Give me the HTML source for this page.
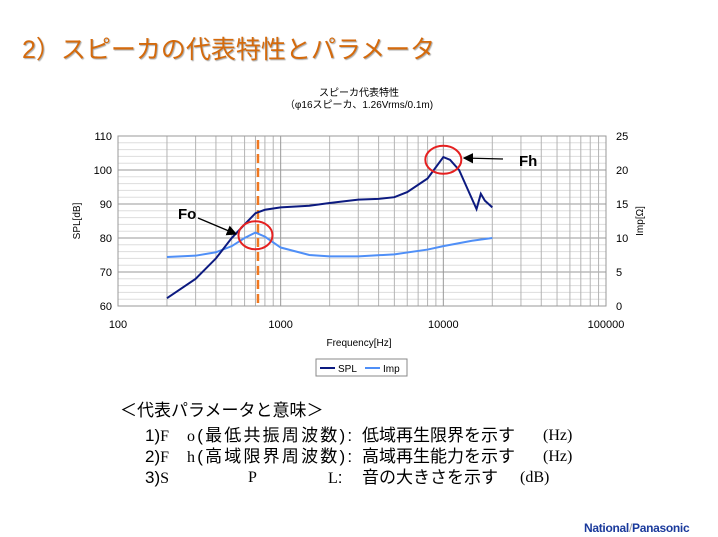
<!DOCTYPE html>
<html><head><meta charset="utf-8"><style>
body{margin:0;width:718px;height:537px;background:#fff;overflow:hidden;position:relative;font-family:"Liberation Sans","Noto Sans CJK JP",sans-serif}
.t{position:absolute;white-space:nowrap}
.p{position:absolute;white-space:nowrap;font-size:17px;line-height:20px;height:20px}
.s{font-family:"Liberation Serif",serif;font-size:16px}
.w{letter-spacing:2.2px}
</style></head><body>
<div class="t" style="left:22px;top:30px;font-size:25px;color:#d46a0c;text-shadow:1px 1px 1px #aaa">2）スピーカの代表特性とパラメータ</div>
<svg id="c" width="718" height="400" style="position:absolute;left:0;top:0" font-family="Liberation Sans, Noto Sans CJK JP, sans-serif"></svg>
<div class="p" style="left:120px;top:401px">＜代表パラメータと意味＞</div>
<div>
<span class="p" style="left:145px;top:426px">1)<span class="s">F</span></span>
<span class="p w" style="left:187px;top:426px"><span class="s">o</span>(最低共振周波数):</span>
<span class="p" style="left:362px;top:426px">低域再生限界を示す</span>
<span class="p s" style="left:543px;top:426px">(Hz)</span>
</div>
<div>
<span class="p" style="left:145px;top:447px">2)<span class="s">F</span></span>
<span class="p w" style="left:187px;top:447px"><span class="s">h</span>(高域限界周波数):</span>
<span class="p" style="left:362px;top:447px">高域再生能力を示す</span>
<span class="p s" style="left:543px;top:447px">(Hz)</span>
</div>
<div>
<span class="p" style="left:145px;top:468px">3)<span class="s">S</span></span>
<span class="p s" style="left:248px;top:468px">P</span>
<span class="p" style="left:328px;top:468px"><span class="s">L</span>:</span>
<span class="p" style="left:362px;top:468px">音の大きさを示す</span>
<span class="p s" style="left:520px;top:468px">(dB)</span>
</div>
<div class="t" style="left:584px;top:521px;font-size:12px;font-weight:bold;color:#1a3a9c;letter-spacing:-0.3px">National<span style="color:#999;font-weight:normal">/</span>Panasonic</div>
<script>
const splFreq=[200,300,400,500,600,700,800,1000,1500,2000,3000,4000,5000,6000,8000,10000,11000,12500,16000,17000,18000,20000];
const splVal=[62.3,68,74,80,84,87.3,88.3,89,89.5,90.3,91.3,91.5,92,93.5,97.5,103.8,103,100,88.5,93,91,89];
const impFreq=[200,300,400,500,600,700,800,1000,1500,2000,3000,5000,8000,10000,15000,20000];
const impVal=[7.2,7.4,7.9,8.8,10.0,10.8,10.2,8.6,7.5,7.3,7.3,7.6,8.3,8.8,9.6,10.0];
const leftTicks=[60,70,80,90,100,110];
const rightTicks=[0,5,10,15,20,25];
const xTicks=[100,1000,10000,100000];
const foFreq=725;
const L=118,R=606,T=136,B=306;
const xs=f=>L+(Math.log10(f)-2)/3*(R-L);
const yl=v=>B-(v-60)/50*(B-T);
const yr=v=>B-v/25*(B-T);
const s=document.getElementById('c');const NS='http://www.w3.org/2000/svg';
function mk(tag,a,p){const e=document.createElementNS(NS,tag);for(const k in a)e.setAttribute(k,a[k]);(p||s).appendChild(e);return e;}
function tx(x,y,str,a){const e=mk('text',Object.assign({x:x,y:y,'font-size':11},a||{}));e.textContent=str;return e;}
let e;
e=tx(359,96,'スピーカ代表特性',{'text-anchor':'middle','font-size':10});

e=tx(359,108,'（φ16スピーカ、1.26Vrms/0.1m)',{'text-anchor':'middle','font-size':10});

const g=mk('g',{});
for(let v=60;v<=110;v+=2){mk('line',{x1:L,x2:R,y1:yl(v),y2:yl(v),stroke:v%10?'#ddd':'#999','stroke-width':1},g);}
for(let d=100;d<100000;d*=10)for(let k=1;k<10;k++){const x=xs(d*k);mk('line',{x1:x,x2:x,y1:T,y2:B,stroke:k==1?'#999':'#b4b4b4','stroke-width':1},g);}
mk('rect',{x:L,y:T,width:R-L,height:B-T,fill:'none',stroke:'#999'});
leftTicks.forEach(v=>{e=tx(L-6,yl(v)+4,String(v),{'text-anchor':'end'});});
rightTicks.forEach(v=>{e=tx(R+10,yr(v)+4,String(v));});
xTicks.forEach(v=>{e=tx(xs(v),328,String(v),{'text-anchor':'middle'});});
e=tx(359,346,'Frequency[Hz]',{'text-anchor':'middle','font-size':10});
e=tx(0,0,'SPL[dB]',{'text-anchor':'middle','font-size':10,transform:'translate(80,221) rotate(-90)'});
e=tx(0,0,'Imp[Ω]',{'text-anchor':'middle','font-size':10,transform:'translate(643,221) rotate(-90)'});
e=mk('line',{x1:xs(foFreq),x2:xs(foFreq),y1:T+4,y2:B,stroke:'#f07820','stroke-width':2.5,'stroke-dasharray':'9,5'});

e=mk('polyline',{points:impFreq.map((f,i)=>xs(f)+','+yr(impVal[i])).join(' '),fill:'none',stroke:'#4f8ff7','stroke-width':2});

e=mk('polyline',{points:splFreq.map((f,i)=>xs(f)+','+yl(splVal[i])).join(' '),fill:'none',stroke:'#0c1a80','stroke-width':2});

e=mk('ellipse',{cx:xs(700),cy:yr(10.4),rx:17,ry:14,fill:'none',stroke:'#e52020','stroke-width':2});
e=mk('ellipse',{cx:xs(10000),cy:yl(103),rx:18,ry:14,fill:'none',stroke:'#e52020','stroke-width':2});
mk('defs',{}).innerHTML='<marker id="ah" markerWidth="8" markerHeight="8" refX="7" refY="4" orient="auto"><path d="M0,0 L8,4 L0,8z" fill="#000"/></marker>';
e=mk('line',{x1:198,x2:236,y1:218,y2:234,stroke:'#000','stroke-width':1.3,'marker-end':'url(#ah)'});
e=mk('line',{x1:503,x2:464,y1:159,y2:158,stroke:'#000','stroke-width':1.3,'marker-end':'url(#ah)'});
e=tx(178,219,'Fo',{'font-size':15,'font-weight':'bold'});
e=tx(519,166,'Fh',{'font-size':15,'font-weight':'bold'});
const lg=mk('g',{});
mk('rect',{x:316,y:359,width:91,height:17,fill:'#fff',stroke:'#888'},lg);
mk('line',{x1:320,x2:335,y1:368,y2:368,stroke:'#0c1a80','stroke-width':2},lg);
e=tx(338,372,'SPL',{'font-size':10});lg.appendChild(e);
mk('line',{x1:365,x2:380,y1:368,y2:368,stroke:'#4f8ff7','stroke-width':2},lg);
e=tx(383,372,'Imp',{'font-size':10});lg.appendChild(e);
</script>
</body></html>
